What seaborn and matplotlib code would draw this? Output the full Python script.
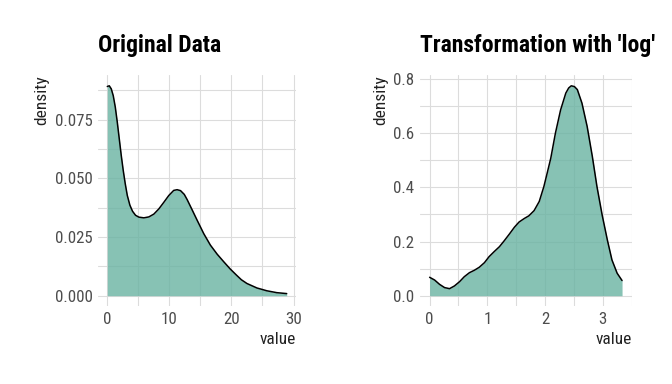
import matplotlib
matplotlib.use('Agg')
import matplotlib.pyplot as plt
from matplotlib import font_manager
from matplotlib.ticker import MultipleLocator, FormatStrFormatter
import seaborn as sns

# Đường mật độ (giá trị x, mật độ)
orig_x = [0.0, 0.32, 0.64, 0.96, 1.29, 1.61, 1.93, 2.25, 2.57, 2.89, 3.22, 3.64, 4.07,
          4.55, 5.09, 5.89, 6.70, 7.5, 8.3, 9.1, 9.9, 10.7, 11.25, 11.8, 12.4, 12.86,
          13.67, 14.47, 15.53, 16.6, 17.7, 18.75, 19.8, 20.8, 21.6, 22.5, 24.1, 25.7,
          27.3, 28.9]
orig_density = [0.0892, 0.0895, 0.0882, 0.0853, 0.0804, 0.0740, 0.0669, 0.0598, 0.0534,
                0.0478, 0.0428, 0.0386, 0.0360, 0.0343, 0.0335, 0.0332, 0.0336, 0.0348,
                0.0370, 0.0398, 0.0427, 0.0449, 0.0452, 0.0448, 0.0432, 0.0410, 0.0366,
                0.0322, 0.0265, 0.0216, 0.0177, 0.0145, 0.0114, 0.0088, 0.0068, 0.0052,
                0.0033, 0.0021, 0.0013, 0.0009]

log_x = [0.0, 0.086, 0.172, 0.259, 0.345, 0.43, 0.52, 0.60, 0.69, 0.776, 0.86, 0.95,
         1.03, 1.12, 1.21, 1.29, 1.38, 1.47, 1.55, 1.64, 1.72, 1.81, 1.90, 1.98, 2.04,
         2.10, 2.18, 2.27, 2.36, 2.41, 2.455, 2.51, 2.56, 2.64, 2.73, 2.82, 2.90, 2.99,
         3.08, 3.16, 3.25, 3.335]
log_density = [0.068, 0.058, 0.042, 0.030, 0.026, 0.036, 0.052, 0.070, 0.085, 0.094,
               0.105, 0.122, 0.144, 0.163, 0.181, 0.202, 0.227, 0.253, 0.272, 0.285,
               0.295, 0.314, 0.348, 0.403, 0.455, 0.508, 0.600, 0.686, 0.748, 0.767,
               0.775, 0.772, 0.761, 0.711, 0.625, 0.514, 0.403, 0.298, 0.206, 0.132,
               0.083, 0.056]

titles = ["Original Data", "Transformation with 'log'"]

sns.set_theme(style='whitegrid')
available = {f.name for f in font_manager.fontManager.ttflist}
font = 'DejaVu Sans'
for name in ['Roboto Condensed', 'Liberation Sans Narrow', 'Roboto']:
    if name in available:
        font = name
        break
condensed = font != 'Roboto' and font != 'DejaVu Sans'
plt.rcParams['font.family'] = [font, 'DejaVu Sans']

title_size = 17 if condensed else 13.5
tick_size = 12.2 if condensed else 10.5
label_size = 12.5 if condensed else 11

fig = plt.figure(figsize=(6.72, 3.84), dpi=100)
ax1 = fig.add_axes([0.1463, 0.2026, 0.2937, 0.6013])
ax2 = fig.add_axes([0.625, 0.2026, 0.315, 0.6013])

panels = [
    (ax1, orig_x, orig_density, 10, 0.025, '%.3f'),
    (ax2, log_x, log_density, 1, 0.2, '%.1f'),
]

for ax, xs, ys, xstep, ystep, fmt in panels:
    ax.fill_between(xs, ys, color='#69b3a2', alpha=0.8, lw=0, zorder=2)
    sns.lineplot(x=xs, y=ys, ax=ax, color='black', lw=1.1, sort=False, zorder=3,
                 solid_joinstyle='round', solid_capstyle='round')
    xr = max(xs) - min(xs)
    ax.set_xlim(min(xs) - 0.05 * xr, max(xs) + 0.05 * xr)
    yr = max(ys)
    ax.set_ylim(-0.05 * yr, 1.05 * yr)
    ax.xaxis.set_major_locator(MultipleLocator(xstep))
    ax.xaxis.set_minor_locator(MultipleLocator(xstep / 2))
    ax.yaxis.set_major_locator(MultipleLocator(ystep))
    ax.yaxis.set_minor_locator(MultipleLocator(ystep / 2))
    ax.yaxis.set_major_formatter(FormatStrFormatter(fmt))
    ax.grid(which='both', color='#dcdcdc', lw=0.8)
    ax.set_axisbelow(True)
    ax.set_facecolor('white')
    for s in ax.spines.values():
        s.set_visible(False)
    ax.tick_params(which='both', length=0, labelsize=tick_size, colors='#4d4d4d', pad=4)
    ax.set_xlabel('value', loc='right', fontsize=label_size, color='#222222', labelpad=4)
    ax.set_ylabel('density', loc='top', fontsize=label_size, color='#222222', labelpad=4)

for ax, t in zip([ax1, ax2], titles):
    ax.set_title(t, loc='left', fontsize=title_size, fontweight='bold', color='black', pad=17)

fig.savefig('out.png', dpi=100)
